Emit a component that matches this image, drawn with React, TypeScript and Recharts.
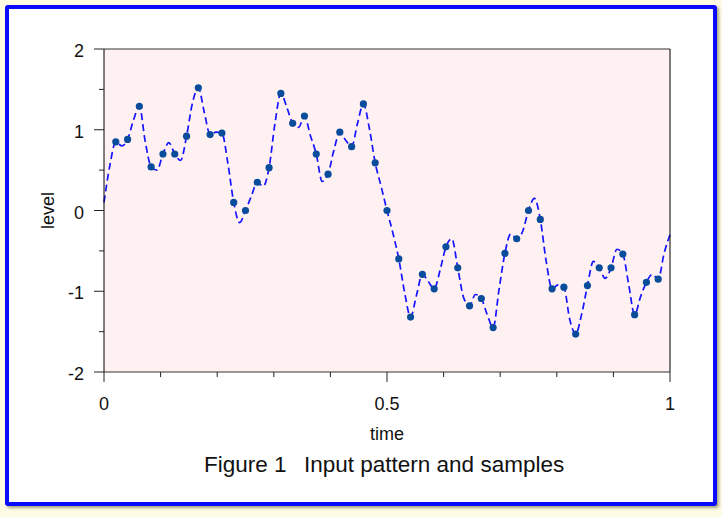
import React from 'react';
import { ComposedChart, Line, Scatter, XAxis, YAxis, CartesianGrid } from 'recharts';

// dashed input pattern, read at steps of 1/96
const curveVals = [
  0.10, 0.56, 0.85, 0.80, 0.88, 1.12, 1.29, 0.85, 0.54, 0.50,
  0.70, 0.84, 0.70, 0.62, 0.92, 1.33, 1.52, 1.22, 0.94, 0.97,
  0.96, 0.59, 0.10, -0.15, 0.00, 0.18, 0.35, 0.30, 0.53, 1.08,
  1.45, 1.28, 1.08, 1.03, 1.17, 0.93, 0.70, 0.36, 0.45, 0.75,
  0.97, 0.87, 0.79, 1.08, 1.32, 1.02, 0.59, 0.30, 0.00, -0.28,
  -0.60, -1.02, -1.32, -1.05, -0.79, -0.88, -0.97, -0.74, -0.45, -0.35,
  -0.71, -1.08, -1.18, -1.04, -1.09, -1.29, -1.45, -0.98, -0.53, -0.29,
  -0.35, -0.26, 0.00, 0.15, -0.11, -0.63, -0.97, -0.92, -0.95, -1.35,
  -1.53, -1.29, -0.93, -0.63, -0.71, -0.84, -0.71, -0.48, -0.54, -0.92,
  -1.29, -1.07, -0.89, -0.79, -0.85, -0.53, -0.30,
];

// sample dots at k/48, k = 1..47
const sampleVals = [
  0.85, 0.88, 1.29, 0.54, 0.70, 0.70, 0.92, 1.52, 0.94, 0.96,
  0.10, 0.00, 0.35, 0.53, 1.45, 1.08, 1.17, 0.70, 0.45, 0.97,
  0.79, 1.32, 0.59, 0.00, -0.60, -1.32, -0.79, -0.97, -0.45, -0.71,
  -1.18, -1.09, -1.45, -0.53, -0.35, 0.00, -0.11, -0.97, -0.95, -1.53,
  -0.93, -0.71, -0.71, -0.54, -1.29, -0.89, -0.85,
];

const xTicks = [0, 0.1, 0.2, 0.3, 0.4, 0.5, 0.6, 0.7, 0.8, 0.9, 1];
const xLabels: Record<string, string> = { '0': '0', '0.5': '0.5', '1': '1' };
const yTicks = [-2, -1.5, -1, -0.5, 0, 0.5, 1, 1.5, 2];
const yLabels: Record<string, string> = { '-2': '-2', '-1': '-1', '0': '0', '1': '1', '2': '2' };

const curveData = curveVals.map((v, i) => ({ t: i / 96, v }));
const sampleData = sampleVals.map((v, i) => ({ t: (i + 1) / 48, s: v }));

const FONT = '"Liberation Sans", Arial, Helvetica, sans-serif';
const TICK = '#222';

const BottomTick = ({ x, y, payload }: any) => {
  const lab = xLabels[String(payload.value)];
  return (
    <g>
      <line x1={x} y1={y} x2={x} y2={y + (lab ? 10 : 5)} stroke={TICK} />
      {lab && (
        <text x={x} y={y + 38} textAnchor="middle" fontSize={18} fill="#111" fontFamily={FONT}>{lab}</text>
      )}
    </g>
  );
};

const TopTick = ({ x, y, payload }: any) => {
  const lab = xLabels[String(payload.value)];
  return <line x1={x} y1={y} x2={x} y2={y - (lab ? 10 : 5)} stroke={TICK} />;
};

const LeftTick = ({ x, y, payload }: any) => {
  const lab = yLabels[String(payload.value)];
  return (
    <g>
      <line x1={x} y1={y} x2={x - (lab ? 10 : 5)} y2={y} stroke={TICK} />
      {lab && (
        <text x={x - 20} y={y + 8} textAnchor="end" fontSize={18} fill="#111" fontFamily={FONT}>{lab}</text>
      )}
    </g>
  );
};

const RightTick = ({ x, y, payload }: any) => {
  const lab = yLabels[String(payload.value)];
  return <line x1={x} y1={y} x2={x + (lab ? 10 : 5)} y2={y} stroke={TICK} />;
};

const Dot = (props: any) => <circle cx={props.cx} cy={props.cy} r={3.6} fill="#0a4c9c" />;

export default function App() {
  return (
    <div style={{ position: 'absolute', left: 0, top: 0, width: 722, height: 517, background: '#fdfbe4', fontFamily: FONT }}>
      <div
        style={{
          position: 'absolute', left: 5, top: 5, width: 712, height: 501, boxSizing: 'border-box',
          border: '4px solid #0a0aff', borderRadius: 3, background: '#fff',
          boxShadow: '2px 2px 3px rgba(110,110,60,0.6)',
        }}
      />
      <div style={{ position: 'absolute', left: 0, top: 0 }}>
        <ComposedChart width={722} height={517} margin={{ top: 39, right: 42, bottom: 75, left: 44 }}>
          <CartesianGrid horizontal={false} vertical={false} fill="#fff0f2" />
          <XAxis
            xAxisId="b" type="number" dataKey="t" domain={[0, 1]} ticks={xTicks} interval={0}
            height={70} tickSize={0} tickMargin={0} tick={<BottomTick />} axisLine={{ stroke: '#333' }}
            label={{ value: 'time', position: 'insideBottom', offset: 2, fontSize: 18, fill: '#111', fontFamily: FONT }}
          />
          <XAxis
            xAxisId="t" orientation="top" type="number" dataKey="t" domain={[0, 1]} ticks={xTicks} interval={0}
            height={10} tickSize={0} tickMargin={0} tick={<TopTick />} axisLine={{ stroke: '#333' }}
          />
          <YAxis
            yAxisId="l" type="number" domain={[-2, 2]} ticks={yTicks} interval={0} width={60}
            tickSize={0} tickMargin={0} tick={<LeftTick />} axisLine={{ stroke: '#000' }}
            label={{ value: 'level', angle: -90, position: 'insideLeft', offset: 4, fontSize: 18, fill: '#111', fontFamily: FONT, style: { textAnchor: 'middle' } }}
          />
          <YAxis
            yAxisId="r" orientation="right" type="number" domain={[-2, 2]} ticks={yTicks} interval={0} width={10}
            tickSize={0} tickMargin={0} tick={<RightTick />} axisLine={{ stroke: '#000' }}
          />
          <Line
            xAxisId="b" yAxisId="l" data={curveData} dataKey="v" type="monotone" stroke="#1414ff"
            strokeWidth={1.7} strokeDasharray="7 4" dot={false} activeDot={false} isAnimationActive={false}
          />
          <Scatter
            xAxisId="b" yAxisId="l" data={sampleData} dataKey="s" shape={<Dot />} isAnimationActive={false}
          />
        </ComposedChart>
      </div>
      <svg width={722} height={517} style={{ position: 'absolute', left: 0, top: 0, pointerEvents: 'none' }}>
        <text x={204} y={472} fontSize={22.5} fill="#111" fontFamily={FONT}>Figure 1</text>
        <text x={304} y={472} fontSize={22.5} fill="#111" fontFamily={FONT}>Input pattern and samples</text>
      </svg>
    </div>
  );
}
